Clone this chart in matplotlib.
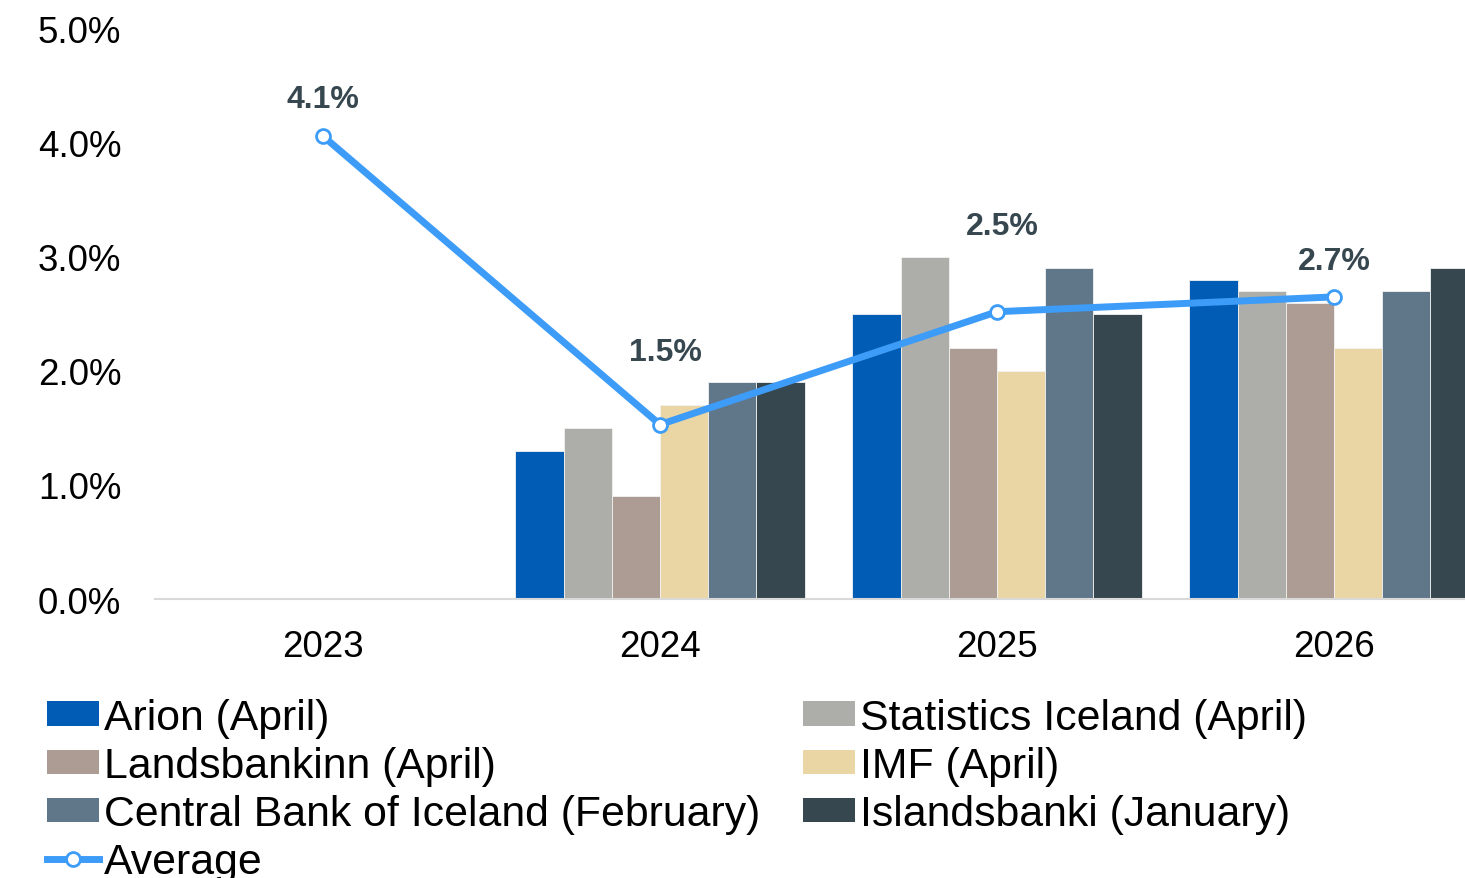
import numpy as np
import matplotlib
matplotlib.use("Agg")
import matplotlib.pyplot as plt
from matplotlib.patches import Patch
from matplotlib.lines import Line2D

plt.rcParams["font.family"] = ["Liberation Sans", "DejaVu Sans"]

YEARS = ["2023", "2024", "2025", "2026"]
SERIES = ["Arion (April)", "Statistics Iceland (April)", "Landsbankinn (April)",
          "IMF (April)", "Central Bank of Iceland (February)", "Islandsbanki (January)"]
ARION = [np.nan, 1.3, 2.5, 2.8]
STATICE = [np.nan, 1.5, 3.0, 2.7]
LANDS = [np.nan, 0.9, 2.2, 2.6]
IMF = [np.nan, 1.7, 2.0, 2.2]
CBI = [np.nan, 1.9, 2.9, 2.7]
ISB = [np.nan, 1.9, 2.5, 2.9]
AVERAGE = [4.06, 1.53, 2.52, 2.65]
AVG_LABELS = ["4.1%", "1.5%", "2.5%", "2.7%"]
YTICKS = [0, 1, 2, 3, 4, 5]

COLORS = ["#005CB4", "#ADAEA9", "#AC9C93", "#EAD5A5", "#607689", "#37474F"]
LINE_COL = "#3D9CF8"
LABEL_COL = "#37474F"
LABEL_DY = [37, 73, 86, 36]   # px above point, as placed in the original
LABEL_DX = [0, 5, 5, 0]

fig = plt.figure(figsize=(14.65, 8.79), dpi=100)
ax = fig.add_axes([0.1055, 0.3174, 0.9201, 0.6485])

x = np.arange(len(YEARS))
w = 0.143
for i, (vals, col) in enumerate(zip([ARION, STATICE, LANDS, IMF, CBI, ISB], COLORS)):
    ax.bar(x + (i - 2.5) * w, vals, width=w, color=col, edgecolor="#f2f2f2",
           linewidth=0.6, zorder=2)

ax.plot(x, AVERAGE, color=LINE_COL, lw=5, marker="o", ms=10, mfc="white",
        mec=LINE_COL, mew=2, zorder=4, solid_capstyle="round")
for xi, yi, lab, dy, dx in zip(x, AVERAGE, AVG_LABELS, LABEL_DY, LABEL_DX):
    ax.annotate(lab, (xi, yi), xytext=(dx * 0.72, dy * 0.72), textcoords="offset points",
                ha="center", va="center", fontsize=23, fontweight="bold", color=LABEL_COL)

ax.set_xlim(-0.5, 3.5)
ax.set_ylim(0, 5)
ax.set_xticks(x)
ax.set_xticklabels(YEARS)
ax.set_yticks(YTICKS)
ax.set_yticklabels([f"{v:.1f}%" for v in YTICKS])
ax.tick_params(axis="both", length=0, labelsize=26.5, labelcolor="black")
ax.tick_params(axis="y", pad=24)
ax.tick_params(axis="x", pad=21.5)
for s in ("top", "right", "left"):
    ax.spines[s].set_visible(False)
ax.spines["bottom"].set_color("#D9D9D9")
ax.spines["bottom"].set_linewidth(1.5)

h = [Patch(facecolor=c) for c in COLORS]
avg_h = Line2D([], [], color=LINE_COL, lw=5, marker="o", ms=10, mfc="white",
               mec=LINE_COL, mew=2)
handles = [h[0], h[2], h[4], avg_h, h[1], h[3], h[5]]
labels = [SERIES[0], SERIES[2], SERIES[4], "Average", SERIES[1], SERIES[3], SERIES[5]]
fig.legend(handles, labels, ncol=2, loc="upper left", bbox_to_anchor=(0.032, 0.205),
           frameon=False, fontsize=30.8, handlelength=1.22, handleheight=0.5,
           handletextpad=0.12, columnspacing=0.99, labelspacing=0.19,
           borderpad=0, borderaxespad=0)

fig.savefig("out.png", dpi=100)
